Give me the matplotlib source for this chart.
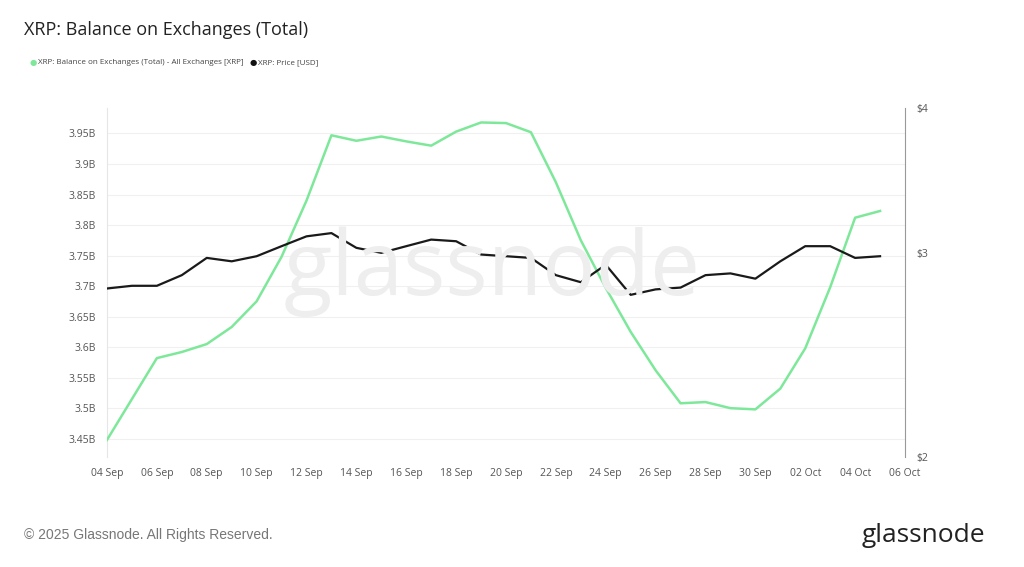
import matplotlib
matplotlib.use("Agg")
import matplotlib.pyplot as plt
import numpy as np
import pandas as pd

dates = pd.date_range("2025-09-04", "2025-10-05", freq="D")
balance = [3.448, 3.515, 3.582, 3.592, 3.605, 3.633, 3.675, 3.748, 3.84, 3.947,
           3.938, 3.945, 3.937, 3.93, 3.953, 3.968, 3.967, 3.952, 3.87, 3.775,
           3.697, 3.625, 3.562, 3.508, 3.51, 3.5, 3.498, 3.532, 3.598, 3.698,
           3.812, 3.823]
price = [2.795, 2.81, 2.81, 2.87, 2.97, 2.95, 2.98, 3.04, 3.10, 3.12,
         3.03, 3.0, 3.04, 3.08, 3.07, 2.99, 2.98, 2.97, 2.87, 2.83,
         2.93, 2.76, 2.79, 2.80, 2.87, 2.88, 2.85, 2.95, 3.04, 3.04,
         2.97, 2.98]
left_ticks = [3.45, 3.5, 3.55, 3.6, 3.65, 3.7, 3.75, 3.8, 3.85, 3.9, 3.95]
left_labels = ["3.45B", "3.5B", "3.55B", "3.6B", "3.65B", "3.7B", "3.75B", "3.8B", "3.85B", "3.9B", "3.95B"]
right_ticks = [2, 3, 4]
right_labels = ["$2", "$3", "$4"]

plt.rcParams['font.family'] = ['Open Sans', 'DejaVu Sans']
fig = plt.figure(figsize=(10.24, 5.67), dpi=100)
ax = fig.add_axes([107/1024, 110/567, 798/1024, 349/567])
green = "#7ee89a"
ax.plot(dates, balance, color=green, lw=1.8, zorder=3)
ax.set_ylim(3.42, 3.9917)
ax.set_yticks(left_ticks)
ax.set_yticklabels(left_labels)
ax.set_xlim(pd.Timestamp("2025-09-04"), pd.Timestamp("2025-10-06"))
ticks = pd.date_range("2025-09-04", "2025-10-06", freq="2D")
ax.set_xticks(ticks)
ax.set_xticklabels([d.strftime("%d %b") for d in ticks])
ax.grid(axis='y', color="#f0f0f0", lw=0.8)
for s in ["top", "right", "bottom"]:
    ax.spines[s].set_visible(False)
ax.spines["left"].set_color("#e6e6e6")
ax.tick_params(axis='both', length=0, labelsize=7.5, colors="#555555", pad=8)

ax2 = ax.twinx()
ax2.plot(dates, price, color="#1a1a1a", lw=1.6, zorder=4)
ax2.set_yscale('log')
ax2.set_ylim(2, 4)
ax2.set_yticks(right_ticks)
ax2.set_yticklabels(right_labels)
ax2.yaxis.set_minor_locator(matplotlib.ticker.NullLocator())
for s in ["top", "left", "bottom"]:
    ax2.spines[s].set_visible(False)
ax2.spines["right"].set_color("#999999")
ax2.tick_params(axis='y', length=0, labelsize=7.5, colors="#555555", pad=8)

fig.text(492/1024, 1-272/567, "glassnode", fontsize=64, color="#eeeeee", ha="center", va="center", zorder=0)
fig.text(24/1024, 1-30/567, "XRP: Balance on Exchanges (Total)", fontsize=13, color="#222222", va="center")
fig.text(30/1024, 1-63/567, "●", fontsize=6, color=green, va="center")
fig.text(38/1024, 1-63/567, "XRP: Balance on Exchanges (Total) - All Exchanges [XRP]", fontsize=5.8, color="#444444", va="center")
fig.text(250/1024, 1-63/567, "●", fontsize=6, color="#111111", va="center")
fig.text(258/1024, 1-63/567, "XRP: Price [USD]", fontsize=5.8, color="#444444", va="center")
fig.text(24/1024, 1-535/567, "© 2025 Glassnode. All Rights Reserved.", fontsize=10, color="#777777", va="center", family="Liberation Sans")
fig.text(985/1024, 1-535/567, "glassnode", fontsize=19, color="#222222", va="center", ha="right")
fig.savefig("out.png", dpi=100, facecolor="white")
